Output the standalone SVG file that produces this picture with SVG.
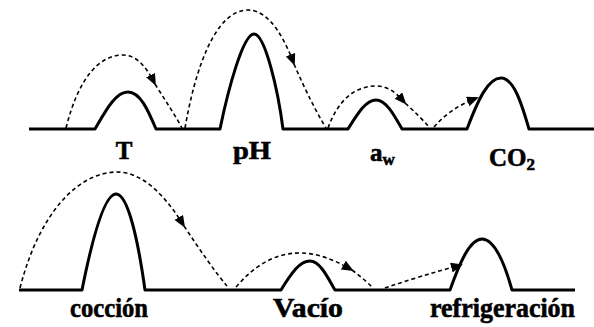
<svg xmlns="http://www.w3.org/2000/svg" width="594" height="327" viewBox="0 0 594 327">
<style>
.base{fill:none;stroke:#000;stroke-width:3;stroke-linejoin:round}
.dash{fill:none;stroke:#000;stroke-width:1.6;stroke-dasharray:4 3}
.lbl{font-family:"Liberation Serif","Times New Roman",serif;font-weight:bold;fill:#000;stroke:#000;stroke-width:0.6}
.top{font-size:25px}
.bot{font-size:28px}
</style>
<defs>
<marker id="ah" markerUnits="userSpaceOnUse" markerWidth="14" markerHeight="12" refX="10" refY="5" orient="auto">
<path d="M0,0 L12,5 L0,10 z" fill="#000"/>
</marker>
</defs>
<rect width="594" height="327" fill="#fff"/>
<g id="baselines">
<path id="line-top" class="base" d="M29,129 H95 C105,112 115,92 128,92 C140,92 148,110 156,129 H220 C228,90 243,34 254,34 C265,34 278,90 283,129 H348 C358,113 366,100 376,100 C386,100 394,115 402,129 H467 C478,100 488,78 501,78 C514,78 522,105 529,129 H594"/>
<path id="line-bottom" class="base" d="M19,290 H82 C92,240 104,194 116,194 C128,194 138,240 145,290 H281 C292,272 300,261 310,261 C320,261 328,278 335,290 H450 C460,262 470,239 482,239 C495,239 505,265 512,290 H575"/>
</g>
<g id="connectors">
<path class="dash" d="M66,128 C78,80 98,55 123,55 C138,55 148,70 155,84" marker-end="url(#ah)"/>
<path class="dash" d="M155,84 C165,100 175,115 182,128"/>
<path class="dash" d="M185,128 C195,70 215,10 248,10 C270,10 285,40 294,64" marker-end="url(#ah)"/>
<path class="dash" d="M294,64 C305,90 318,115 326,128"/>
<path class="dash" d="M328,128 C338,100 355,86 376,86 C390,86 398,95 405,103" marker-end="url(#ah)"/>
<path class="dash" d="M405,103 C415,112 423,120 429,127"/>
<path class="dash" d="M434,127 Q450,108 477,98" marker-end="url(#ah)"/>
<path class="dash" d="M20,288 C40,210 80,172 117,172 C145,172 168,200 184,226" marker-end="url(#ah)"/>
<path class="dash" d="M184,226 C200,250 215,272 227,286"/>
<path class="dash" d="M236,287 C255,265 275,253 300,253 C320,253 338,262 352,270" marker-end="url(#ah)"/>
<path class="dash" d="M352,270 C360,276 367,282 373,288"/>
<path class="dash" d="M385,288 Q420,276 461,265" marker-end="url(#ah)"/>
</g>
<g id="node-T"><text class="lbl top" x="124" y="159" text-anchor="middle">T</text></g>
<g id="node-pH"><text class="lbl top" x="252" y="159" text-anchor="middle" textLength="38" lengthAdjust="spacingAndGlyphs">pH</text></g>
<g id="node-aw"><text class="lbl top" x="370" y="161">a<tspan font-size="17" dy="4">w</tspan></text></g>
<g id="node-CO2"><text class="lbl top" x="489" y="166">CO<tspan font-size="17" dy="4">2</tspan></text></g>
<g id="node-coccion"><text class="lbl bot" x="70" y="317" textLength="78" lengthAdjust="spacingAndGlyphs">cocción</text></g>
<g id="node-vacio"><text class="lbl bot" x="273" y="317" textLength="70" lengthAdjust="spacingAndGlyphs">Vacío</text></g>
<g id="node-refrigeracion"><text class="lbl bot" x="430" y="317" textLength="145" lengthAdjust="spacingAndGlyphs">refrigeración</text></g>
</svg>
